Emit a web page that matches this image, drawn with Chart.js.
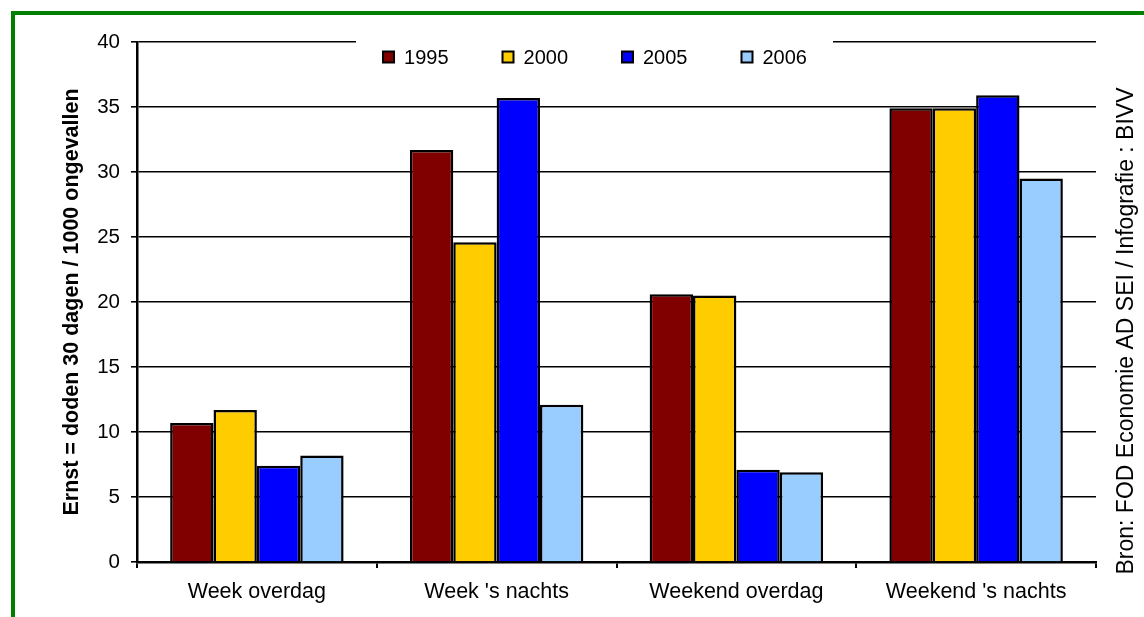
<!DOCTYPE html>
<html>
<head>
<meta charset="utf-8">
<script src="https://cdn.jsdelivr.net/npm/chart.js@4/dist/chart.umd.min.js"></script>
<style>
  html, body { margin: 0; padding: 0; background: #ffffff; }
  #wrap { width: 1144px; height: 617px; }
</style>
</head>
<body>
<div id="wrap"><canvas id="chart" width="1144" height="617"></canvas></div>
<script>
// Ernst van ongevallen (doden 30 dagen per 1000 ongevallen), per periode en jaar
const categories = ['Week overdag', "Week 's nachts", 'Weekend overdag', "Weekend 's nachts"];
const years = ['1995', '2000', '2005', '2006'];
const values1995 = [10.7, 31.7, 20.6, 34.9];
const values2000 = [11.7, 24.6, 20.5, 34.9];
const values2005 = [7.4, 35.7, 7.1, 35.9];
const values2006 = [8.2, 12.1, 6.9, 29.5];
const yTicks = { min: 0, max: 40, step: 5 };
const yTitle = 'Ernst = doden 30 dagen / 1000 ongevallen';
const sourceText = 'Bron: FOD Economie AD SEI / Infografie : BIVV';

const colors = ['#800000', '#FFCC00', '#0000FF', '#99CCFF'];
const FONT = "'Liberation Sans', Arial, Helvetica, sans-serif";

// Frame, legend panel and source line drawn around the plot
const decorations = {
  id: 'decorations',
  beforeDraw(chart) {
    const ctx = chart.ctx;
    ctx.save();
    ctx.fillStyle = '#ffffff';
    ctx.fillRect(0, 0, chart.width, chart.height);
    ctx.fillStyle = '#008000';
    ctx.fillRect(11, 11, chart.width - 11, 4);
    ctx.fillRect(11, 11, 4, chart.height - 11);
    ctx.restore();
  },
  afterDraw(chart) {
    const ctx = chart.ctx;
    ctx.save();
    // legend panel over the top gridline
    ctx.fillStyle = '#ffffff';
    ctx.fillRect(356, 30, 477, 40);
    const items = Chart.defaults.plugins.legend.labels.generateLabels(chart);
    ctx.font = '20px ' + FONT;
    ctx.textBaseline = 'middle';
    ctx.textAlign = 'left';
    const cy = 57, box = 11, gap = 10, spacing = 54;
    const widths = items.map(it => box + gap + ctx.measureText(it.text).width);
    const total = widths.reduce((a, b) => a + b, 0) + spacing * (items.length - 1);
    let x = 595 - total / 2;
    items.forEach((it, i) => {
      ctx.fillStyle = it.fillStyle;
      ctx.fillRect(x, cy - box / 2, box, box);
      ctx.lineWidth = 2;
      ctx.strokeStyle = '#000000';
      ctx.strokeRect(x, cy - box / 2, box, box);
      ctx.fillStyle = '#000000';
      ctx.fillText(it.text, x + box + gap, cy + 1);
      x += widths[i] + spacing;
    });
    // source line, reading upwards along the right edge
    ctx.translate(1127, 331);
    ctx.rotate(-Math.PI / 2);
    ctx.textAlign = 'center';
    ctx.font = '23px ' + FONT;
    ctx.fillStyle = '#000000';
    ctx.fillText(sourceText, 0, 0);
    ctx.restore();
  }
};

const seriesValues = [values1995, values2000, values2005, values2006];

new Chart(document.getElementById('chart'), {
  type: 'bar',
  data: {
    labels: categories,
    datasets: years.map((y, i) => ({
      label: y,
      data: seriesValues[i],
      backgroundColor: colors[i],
      borderColor: '#000000',
      borderWidth: 2.5,
      categoryPercentage: 0.7235,
      barPercentage: 1.0
    }))
  },
  options: {
    responsive: false,
    animation: false,
    devicePixelRatio: 1,
    layout: { padding: { left: 0, top: 42, right: 48, bottom: 0 } },
    plugins: {
      legend: { display: false },
      tooltip: { enabled: false }
    },
    scales: {
      x: {
        afterFit(scale) { scale.height = 55; },
        grid: {
          display: true,
          offset: true,
          drawOnChartArea: false,
          drawTicks: true,
          tickLength: 6,
          color: '#000000',
          lineWidth: 2
        },
        border: { display: true, color: '#000000', width: 2.5 },
        ticks: {
          color: '#000000',
          padding: 11,
          font: { family: FONT, size: 21.5 }
        }
      },
      y: {
        min: yTicks.min,
        max: yTicks.max,
        afterFit(scale) { scale.width = 137; },
        grid: {
          color: '#000000',
          lineWidth: 1.6,
          tickLength: 6,
          drawTicks: true
        },
        border: { display: true, color: '#000000', width: 2.5 },
        ticks: {
          stepSize: yTicks.step,
          color: '#000000',
          padding: 11,
          font: { family: FONT, size: 20.5 }
        },
        title: {
          display: true,
          text: yTitle,
          color: '#000000',
          padding: { top: 59, bottom: 0 },
          font: { family: FONT, size: 21.5, weight: 'bold' }
        }
      }
    }
  },
  plugins: [decorations]
});
</script>
</body>
</html>
